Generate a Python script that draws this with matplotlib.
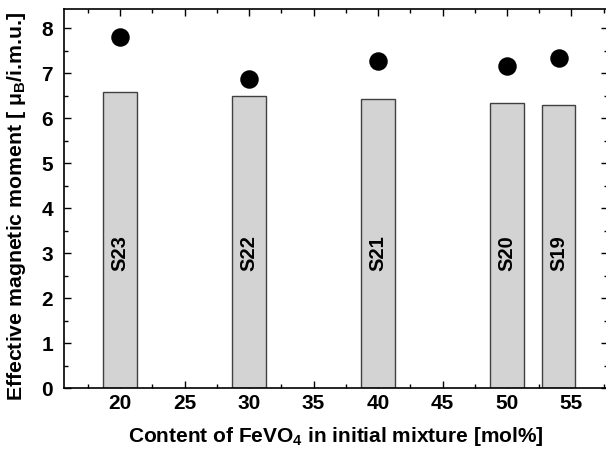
#!/usr/bin/env python3
"""
Effective magnetic moment of samples S19-S23 vs FeVO4 content.
"""

import matplotlib.pyplot as plt
from matplotlib.ticker import MultipleLocator

plt.rcParams['font.family'] = ['Liberation Sans', 'DejaVu Sans']
plt.rcParams['font.weight'] = 'bold'
plt.rcParams['mathtext.fontset'] = 'custom'
plt.rcParams['mathtext.rm'] = 'Liberation Sans:bold'
plt.rcParams['mathtext.it'] = 'Liberation Sans:bold'
plt.rcParams['mathtext.bf'] = 'Liberation Sans:bold'

samples = ['S23', 'S22', 'S21', 'S20', 'S19']
content = [20, 30, 40, 50, 54]          # mol% FeVO4
bar_moment = [6.57, 6.49, 6.42, 6.34, 6.30]
dot_moment = [7.79, 6.87, 7.27, 7.16, 7.33]


def plot_moment():
    fig = plt.figure(figsize=(6.06, 4.55), dpi=100)
    ax = fig.add_axes([0.1056, 0.147, 0.897, 0.833])

    ax.bar(content, bar_moment, width=2.6, color='#d3d3d3',
           edgecolor='#404040', linewidth=1.0, zorder=2)
    ax.plot(content, dot_moment, 'o', color='black', markersize=12.3,
            linestyle='none', zorder=3)

    for x, name in zip(content, samples):
        ax.text(x, 3.0, name, rotation=90, ha='center', va='center',
                fontsize=14.5, fontweight='bold', zorder=4)

    ax.set_xlim(15.65, 57.8)
    ax.set_ylim(0, 8.42)
    ax.xaxis.set_major_locator(MultipleLocator(5))
    ax.xaxis.set_minor_locator(MultipleLocator(2.5))
    ax.yaxis.set_major_locator(MultipleLocator(1))
    ax.yaxis.set_minor_locator(MultipleLocator(0.5))
    ax.tick_params(which='both', direction='in', top=True, right=True,
                   labelsize=15, width=1)
    ax.tick_params(which='major', length=5)
    ax.tick_params(which='minor', length=3)
    ax.tick_params(axis='x', which='major', pad=4)
    ax.tick_params(axis='y', which='major', pad=8)
    for lbl in ax.get_xticklabels() + ax.get_yticklabels():
        lbl.set_fontweight('bold')
    for sp in ax.spines.values():
        sp.set_linewidth(1.2)

    ax.set_xlabel(r'Content of FeVO$\mathregular{_4}$ in initial mixture [mol%]',
                  fontsize=15, fontweight='bold', labelpad=9)
    ax.set_ylabel(r'Effective magnetic moment [ $\mathregular{\mu_B}$/i.m.u.]',
                  fontsize=15.3, fontweight='bold')
    ax.yaxis.set_label_coords(-0.066, 0.48)

    fig.savefig('out.png', dpi=100)
    plt.close(fig)


if __name__ == '__main__':
    plot_moment()
